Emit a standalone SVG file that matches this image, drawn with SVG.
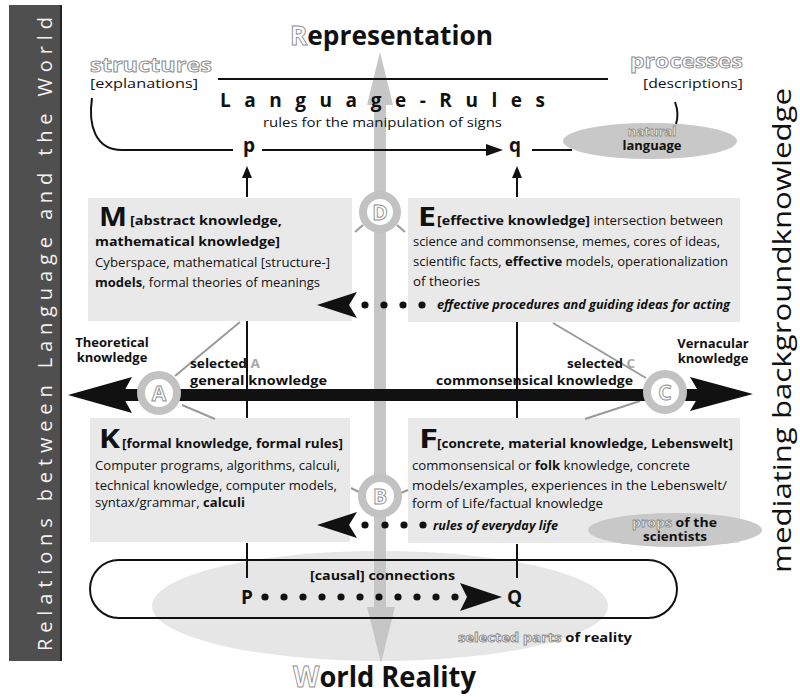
<svg xmlns="http://www.w3.org/2000/svg" width="800" height="697" viewBox="0 0 800 697">
<style>
text{font-family:"Open Sans","Noto Sans","Liberation Sans",sans-serif;fill:#111}
.b{font-size:12px}
.hb{font-size:13px;font-weight:bold}
.big{font-size:27px;font-weight:bold}
.bo{font-weight:bold}
.it{font-size:12px;font-style:italic;font-weight:bold}
.out{fill:#fff;stroke:#8c8c8c;stroke-width:0.9}
.gl{stroke:#9a9a9a;stroke-width:2;fill:none}
.bl{stroke:#111;stroke-width:2;fill:none}
.box{fill:#e9e9e9}
.ring{fill:#fff;stroke:#c2c2c2;stroke-width:8}
.rl{font-size:21px;font-weight:bold;text-anchor:middle}
.dot{fill:#111}
</style>
<rect width="800" height="697" fill="#fff"/>

<g id="left-bar">
<rect x="9" y="5" width="53" height="656" fill="#4f4f4f"/>
<line x1="61" y1="5" x2="61" y2="661" stroke="#222" stroke-width="2"/>
<text transform="translate(52,651) rotate(-90)" font-size="20" style="fill:#f2f2f2" textLength="634" lengthAdjust="spacing">Relations between Language and the World</text>
</g>

<g id="right-label">
<text transform="translate(791,573) rotate(-90)" font-size="26" textLength="485" lengthAdjust="spacingAndGlyphs">mediating backgroundknowledge</text>
</g>

<g id="reality-ellipse">
<ellipse cx="380" cy="606" rx="228" ry="55" fill="#e6e6e6"/>
</g>

<g id="box-M">
<rect class="box" x="88" y="198" width="264" height="123"/>
<text class="big" x="99" y="226" textLength="28" lengthAdjust="spacingAndGlyphs">M</text>
<text class="hb" x="130" y="225" textLength="152" lengthAdjust="spacingAndGlyphs">[abstract knowledge,</text>
<text class="hb" x="95" y="246" textLength="185" lengthAdjust="spacingAndGlyphs">mathematical knowledge]</text>
<text class="b" x="95" y="267" textLength="235" lengthAdjust="spacingAndGlyphs">Cyberspace, mathematical [structure-]</text>
<text class="b" x="95" y="287" textLength="225" lengthAdjust="spacingAndGlyphs"><tspan class="bo">models</tspan>, formal theories of meanings</text>
</g>

<g id="box-E">
<rect class="box" x="408" y="198" width="332" height="124"/>
<text class="big" x="418" y="226" textLength="18" lengthAdjust="spacingAndGlyphs">E</text>
<text class="b" x="437" y="225" textLength="286" lengthAdjust="spacingAndGlyphs"><tspan class="bo" font-size="13">[effective knowledge]</tspan> intersection between</text>
<text class="b" x="413" y="246" textLength="307" lengthAdjust="spacingAndGlyphs">science and commonsense, memes, cores of ideas,</text>
<text class="b" x="413" y="266" textLength="315" lengthAdjust="spacingAndGlyphs">scientific facts, <tspan class="bo">effective</tspan> models, operationalization</text>
<text class="b" x="413" y="286" textLength="67" lengthAdjust="spacingAndGlyphs">of theories</text>
<text class="it" x="437" y="309" textLength="293" lengthAdjust="spacingAndGlyphs">effective procedures and guiding ideas for acting</text>
</g>

<g id="box-K">
<rect class="box" x="90" y="418" width="260" height="124"/>
<text class="big" x="99" y="448" textLength="21" lengthAdjust="spacingAndGlyphs">K</text>
<text class="hb" x="122" y="448" textLength="221" lengthAdjust="spacingAndGlyphs">[formal knowledge, formal rules]</text>
<text class="b" x="95" y="470" textLength="245" lengthAdjust="spacingAndGlyphs">Computer programs, algorithms, calculi,</text>
<text class="b" x="95" y="490" textLength="242" lengthAdjust="spacingAndGlyphs">technical knowledge, computer models,</text>
<text class="b" x="95" y="507" textLength="150" lengthAdjust="spacingAndGlyphs">syntax/grammar, <tspan class="bo">calculi</tspan></text>
</g>

<g id="box-F">
<rect class="box" x="408" y="418" width="332" height="125"/>
<text class="big" x="419" y="448" textLength="19" lengthAdjust="spacingAndGlyphs">F</text>
<text class="hb" x="437" y="448" textLength="296" lengthAdjust="spacingAndGlyphs">[concrete, material knowledge, Lebenswelt]</text>
<text class="b" x="412" y="470" textLength="278" lengthAdjust="spacingAndGlyphs">commonsensical or <tspan class="bo">folk</tspan> knowledge, concrete</text>
<text class="b" x="412" y="490" textLength="315" lengthAdjust="spacingAndGlyphs">models/examples, experiences in the Lebenswelt/</text>
<text class="b" x="412" y="508" textLength="191" lengthAdjust="spacingAndGlyphs">form of Life/factual knowledge</text>
<text class="it" x="433" y="530" textLength="125" lengthAdjust="spacingAndGlyphs">rules of everyday life</text>
</g>

<g id="props-ellipse">
<ellipse cx="675" cy="530" rx="87" ry="17" fill="#c8c8c8"/>
<text class="hb" x="632" y="527" font-size="11.5" textLength="85" lengthAdjust="spacingAndGlyphs"><tspan class="out">props</tspan> of the</text>
<text class="hb" x="643" y="541" font-size="11.5" textLength="64" lengthAdjust="spacingAndGlyphs">scientists</text>
</g>

<g id="natural-language">
<ellipse cx="650" cy="141" rx="87" ry="18" fill="#c8c8c8"/>
<text class="hb out" x="652" y="136" text-anchor="middle" font-size="11.5">natural</text>
<text class="hb" x="652" y="150" text-anchor="middle" font-size="12">language</text>
</g>

<g id="connectors">
<rect x="374" y="100" width="12" height="510" fill="#c6c6c6"/>
<polygon points="380,52 367,105 393,105" fill="#c6c6c6"/>
<polygon points="381,663 367,607 395,607" fill="#c6c6c6"/>
<line class="bl" x1="218" y1="79" x2="608" y2="79"/>
<path class="bl" d="M92,98 C88,125 95,150 122,150 L233,150"/>
<line class="bl" x1="262" y1="150" x2="490" y2="150"/>
<polygon points="503,150 486,144 486,156" fill="#111"/>
<line class="bl" x1="532" y1="150" x2="572" y2="150"/>
<path class="bl" d="M675,102 C678,110 678,118 676,124"/>
<line class="bl" x1="247" y1="197" x2="247" y2="176"/>
<polygon points="247,166 242,178 252,178" fill="#111"/>
<line class="bl" x1="517" y1="197" x2="517" y2="176"/>
<polygon points="517,166 512,178 522,178" fill="#111"/>
<line class="gl" x1="240" y1="322" x2="175" y2="376"/>
<line class="gl" x1="182" y1="405" x2="215" y2="419"/>
<line class="gl" x1="553" y1="323" x2="646" y2="378"/>
<line class="gl" x1="640" y1="401" x2="585" y2="419"/>
<line class="gl" x1="363" y1="225" x2="355" y2="232"/>
<line class="gl" x1="397" y1="225" x2="405" y2="232"/>
<line class="gl" x1="359" y1="492" x2="351" y2="488"/>
<line class="gl" x1="401" y1="493" x2="408" y2="490"/>
<line class="bl" x1="247" y1="321" x2="247" y2="418"/>
<line class="bl" x1="517" y1="322" x2="517" y2="418"/>
<line class="bl" x1="247" y1="543" x2="247" y2="578"/>
<line class="bl" x1="517" y1="544" x2="517" y2="578"/>
<rect x="120" y="389" width="582" height="12" fill="#111"/>
<polygon points="68,395 132,377 122,395 132,413" fill="#111"/>
<polygon points="753,394 690,377 700,394 690,411" fill="#111"/>
<polygon points="317,305 357,292 349,305 357,318" fill="#111"/>
<circle class="dot" cx="365" cy="305" r="3.6"/>
<circle class="dot" cx="384" cy="305" r="3.6"/>
<circle class="dot" cx="403" cy="305" r="3.6"/>
<circle class="dot" cx="422" cy="305" r="3.6"/>
<polygon points="317,525 357,512 349,525 357,538" fill="#111"/>
<circle class="dot" cx="365" cy="525" r="3.6"/>
<circle class="dot" cx="385" cy="525" r="3.6"/>
<circle class="dot" cx="404" cy="525" r="3.6"/>
<circle class="dot" cx="423" cy="525" r="3.6"/>
<rect x="90" y="560" width="587" height="58" rx="29" ry="29" fill="none" stroke="#111" stroke-width="2"/>
<circle class="dot" cx="265" cy="597" r="3.6"/>
<circle class="dot" cx="284" cy="597" r="3.6"/>
<circle class="dot" cx="303" cy="597" r="3.6"/>
<circle class="dot" cx="322" cy="597" r="3.6"/>
<circle class="dot" cx="341" cy="597" r="3.6"/>
<circle class="dot" cx="360" cy="597" r="3.6"/>
<circle class="dot" cx="379" cy="597" r="3.6"/>
<circle class="dot" cx="398" cy="597" r="3.6"/>
<circle class="dot" cx="417" cy="597" r="3.6"/>
<circle class="dot" cx="436" cy="597" r="3.6"/>
<circle class="dot" cx="455" cy="597" r="3.6"/>
<polygon points="502,597 460,583 467,597 460,611" fill="#111"/>
</g>

<g id="circle-D">
<circle class="ring" cx="380" cy="212" r="17"/>
<text class="rl out" x="380" y="220">D</text>
</g>
<g id="circle-B">
<circle class="ring" cx="380" cy="496" r="18"/>
<text class="rl out" x="380" y="504">B</text>
</g>
<g id="circle-A">
<circle class="ring" cx="159" cy="393" r="18"/>
<text class="rl out" x="159" y="401">A</text>
</g>
<g id="circle-C">
<circle class="ring" cx="665" cy="392" r="18"/>
<text class="rl out" x="665" y="400">C</text>
</g>

<g id="titles">
<text x="290" y="45" font-size="26" font-weight="bold" textLength="203" lengthAdjust="spacingAndGlyphs"><tspan class="out">R</tspan>epresentation</text>
<text x="293" y="687" font-size="28" font-weight="bold" textLength="183" lengthAdjust="spacingAndGlyphs"><tspan class="out">W</tspan>orld Reality</text>
</g>

<g id="structures">
<text class="out" x="90" y="72" font-size="20" font-weight="bold" textLength="122" lengthAdjust="spacingAndGlyphs">structures</text>
<text class="b" x="90" y="88" font-size="13" textLength="108" lengthAdjust="spacingAndGlyphs">[explanations]</text>
</g>
<g id="processes">
<text class="out" x="630" y="68" font-size="20" font-weight="bold" textLength="113" lengthAdjust="spacingAndGlyphs">processes</text>
<text class="b" x="643" y="88" font-size="13" textLength="100" lengthAdjust="spacingAndGlyphs">[descriptions]</text>
</g>

<g id="language-rules">
<text x="220" y="107" font-size="19" font-weight="bold" textLength="325" lengthAdjust="spacing">Language-Rules</text>
<text class="b" x="263" y="127" font-size="13" textLength="239" lengthAdjust="spacingAndGlyphs">rules for the manipulation of signs</text>
<text x="243" y="152" font-size="19" font-weight="bold">p</text>
<text x="509" y="152" font-size="19" font-weight="bold">q</text>
</g>

<g id="side-labels">
<text class="hb" x="112" y="347" font-size="12" text-anchor="middle">Theoretical</text>
<text class="hb" x="112" y="362" font-size="12" text-anchor="middle">knowledge</text>
<text class="hb" x="713" y="348" font-size="12" text-anchor="middle">Vernacular</text>
<text class="hb" x="713" y="363" font-size="12" text-anchor="middle">knowledge</text>
<text class="hb" x="190" y="368" font-size="13" textLength="70" lengthAdjust="spacingAndGlyphs">selected <tspan style="fill:#a8a8a8">A</tspan></text>
<text class="hb" x="190" y="385" font-size="13" textLength="137" lengthAdjust="spacingAndGlyphs">general knowledge</text>
<text class="hb" x="567" y="368" font-size="13" textLength="68" lengthAdjust="spacingAndGlyphs">selected <tspan style="fill:#a8a8a8">C</tspan></text>
<text class="hb" x="436" y="385" font-size="13" textLength="197" lengthAdjust="spacingAndGlyphs">commonsensical knowledge</text>
</g>

<g id="bottom-labels">
<text class="hb" x="310" y="580" font-size="12" textLength="145" lengthAdjust="spacingAndGlyphs">[causal] connections</text>
<text x="241" y="604" font-size="19" font-weight="bold">P</text>
<text x="507" y="604" font-size="19" font-weight="bold">Q</text>
<text class="hb" x="458" y="642" font-size="13" textLength="174" lengthAdjust="spacingAndGlyphs"><tspan class="out">selected parts</tspan> of reality</text>
</g>
</svg>
